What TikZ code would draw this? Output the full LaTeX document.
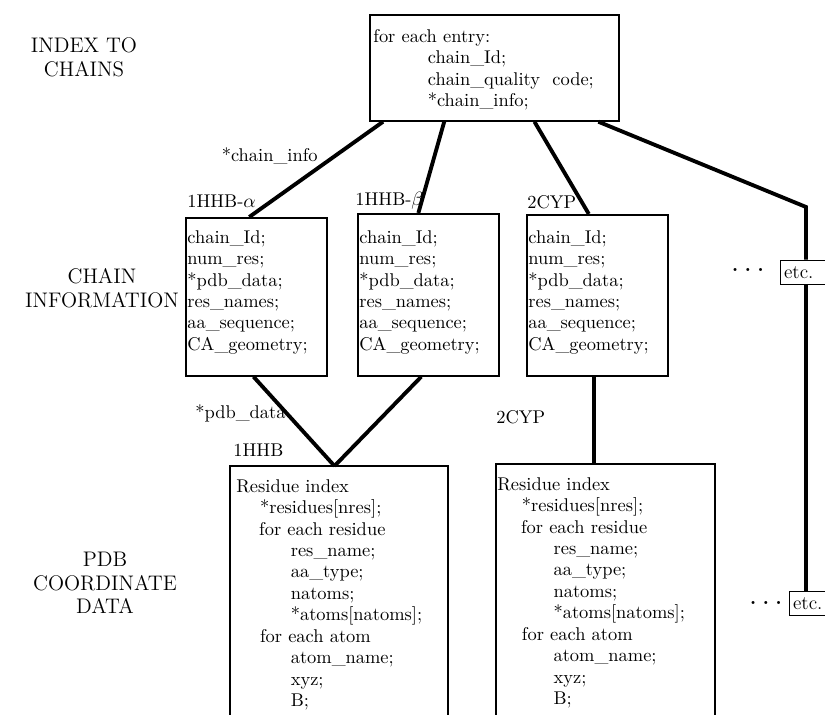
\documentclass[tikz,border=0pt]{standalone}
\usetikzlibrary{calc}
\begin{document}
\begin{tikzpicture}[x=0.02cm, y=-0.02cm,
  box/.style={draw, line width=1pt, anchor=north west, inner sep=0pt},
  boxtext/.style={anchor=north west, align=left, inner sep=0pt, font=\fontsize{10.5}{12.2}\selectfont},
  lbl/.style={anchor=west, inner sep=0pt, font=\fontsize{10.5}{12}\selectfont},
  level/.style={align=center, inner sep=0pt, font=\fontsize{12}{13.5}\selectfont},
  link/.style={line width=2.2pt},
  etcbox/.style={draw, line width=1pt, align=left, text width=25pt, inner xsep=2pt,
    minimum height=0.46cm, font=\fontsize{11}{12}\selectfont},
  dots/.style={inner sep=0pt, font=\fontsize{12}{12}\selectfont\bfseries}]
\clip (0,0) rectangle (825,715);

% level names
\node[level] (lvlindex) at (84,57) {INDEX TO\\CHAINS};
\node[level] (lvlchain) at (102,288) {CHAIN\\INFORMATION};
\node[level] (lvlpdb) at (105,583) {PDB\\COORDINATE\\DATA};

% index to chains
\node[box, minimum width=4.98cm, minimum height=2.12cm] (idx) at (369,14) {};
\node[boxtext] (idxtext) at (373,29) {for each entry:\\
  \hspace*{31pt}chain\_Id;\\
  \hspace*{31pt}chain\_quality\ \ code;\\
  \hspace*{31pt}*chain\_info;};

% chain information
\node[box, minimum width=2.82cm, minimum height=3.16cm] (alpha) at (185,217) {};
\node[box, minimum width=2.82cm, minimum height=3.24cm] (beta) at (357,213) {};
\node[box, minimum width=2.82cm, minimum height=3.22cm] (cyp) at (526,214) {};
\node[boxtext] (alphatext) at (187,230) {chain\_Id;\\num\_res;\\*pdb\_data;\\res\_names;\\aa\_sequence;\\CA\_geometry;};
\node[boxtext] (betatext) at (359,230) {chain\_Id;\\num\_res;\\*pdb\_data;\\res\_names;\\aa\_sequence;\\CA\_geometry;};
\node[boxtext] (cyptext) at (528,230) {chain\_Id;\\num\_res;\\*pdb\_data;\\res\_names;\\aa\_sequence;\\CA\_geometry;};
\node[lbl] (alphalbl) at (187,201) {1HHB-$\alpha$};
\node[lbl] (betalbl) at (355,201) {1HHB-$\beta$};
\node[lbl] (cyplbl) at (527,202) {2CYP};
\node[lbl, anchor=east] (infolbl) at (318,156) {*chain\_info};

\node[etcbox] (etc1) at (806,272.5) {etc.};
\node[dots] (dots1) at (748,270) {.\hspace{3.5pt}.\hspace{3.5pt}.};

% pdb coordinate data
\node[box, draw=none, minimum width=4.32cm, minimum height=6cm] (pdbA) at (230,466) {};
\node[box, draw=none, minimum width=4.34cm, minimum height=6cm] (pdbB) at (496,464) {};
\draw[line width=1pt] (pdbA.south west) -- (pdbA.north west) -- (pdbA.north east) -- (pdbA.south east);
\draw[line width=1pt] (pdbB.south west) -- (pdbB.north west) -- (pdbB.north east) -- (pdbB.south east);
\node[boxtext] (pdbAtext) at (236,479) {Residue index\\
  \hspace*{13.5pt}*residues[nres];\\
  \hspace*{13pt}for each residue\\
  \hspace*{31pt}res\_name;\\
  \hspace*{31pt}aa\_type;\\
  \hspace*{31pt}natoms;\\
  \hspace*{31pt}*atoms[natoms];\\
  \hspace*{13.5pt}for each atom\\
  \hspace*{31pt}atom\_name;\\
  \hspace*{31pt}xyz;\\
  \hspace*{31pt}B;};
\node[boxtext] (pdbBtext) at (497,477) {Residue index\\
  \hspace*{14pt}*residues[nres];\\
  \hspace*{13.5pt}for each residue\\
  \hspace*{32pt}res\_name;\\
  \hspace*{32pt}aa\_type;\\
  \hspace*{32pt}natoms;\\
  \hspace*{32pt}*atoms[natoms];\\
  \hspace*{14pt}for each atom\\
  \hspace*{32pt}atom\_name;\\
  \hspace*{32pt}xyz;\\
  \hspace*{32pt}B;};
\node[lbl] (pdblbl) at (195,413) {*pdb\_data};
\node[lbl] (hhblbl) at (233,450) {1HHB};
\node[lbl] (cyplbl2) at (496,417) {2CYP};

\node[etcbox] (etc2) at (815,603.5) {etc.};
\node[dots] (dots2) at (766,603) {.\hspace{3.5pt}.\hspace{3.5pt}.};

% pointers
\coordinate (bend) at (806,207);
\coordinate (cypfoot) at ($(cyp.south west)!.475!(cyp.south east)$);
\draw[link] ($(idx.south west)!.056!(idx.south east)$) -- ($(alpha.north west)!.45!(alpha.north east)$);
\draw[link] ($(idx.south west)!.30!(idx.south east)$) -- ($(beta.north west)!.43!(beta.north east)$);
\draw[link] ($(idx.south west)!.66!(idx.south east)$) -- ($(cyp.north west)!.44!(cyp.north east)$);
\draw[link] ($(idx.south west)!.915!(idx.south east)$) -- (bend) -- (etc1.north);
\draw[link] (etc1.south) -- (etc1.south |- etc2.north);
\draw[link] ($(alpha.south west)!.48!(alpha.south east)$) -- ($(pdbA.north west)!.48!(pdbA.north east)$);
\draw[link] ($(beta.south west)!.45!(beta.south east)$) -- ($(pdbA.north west)!.48!(pdbA.north east)$);
\draw[link] (cypfoot) -- (cypfoot |- pdbB.north);
\end{tikzpicture}
\end{document}
